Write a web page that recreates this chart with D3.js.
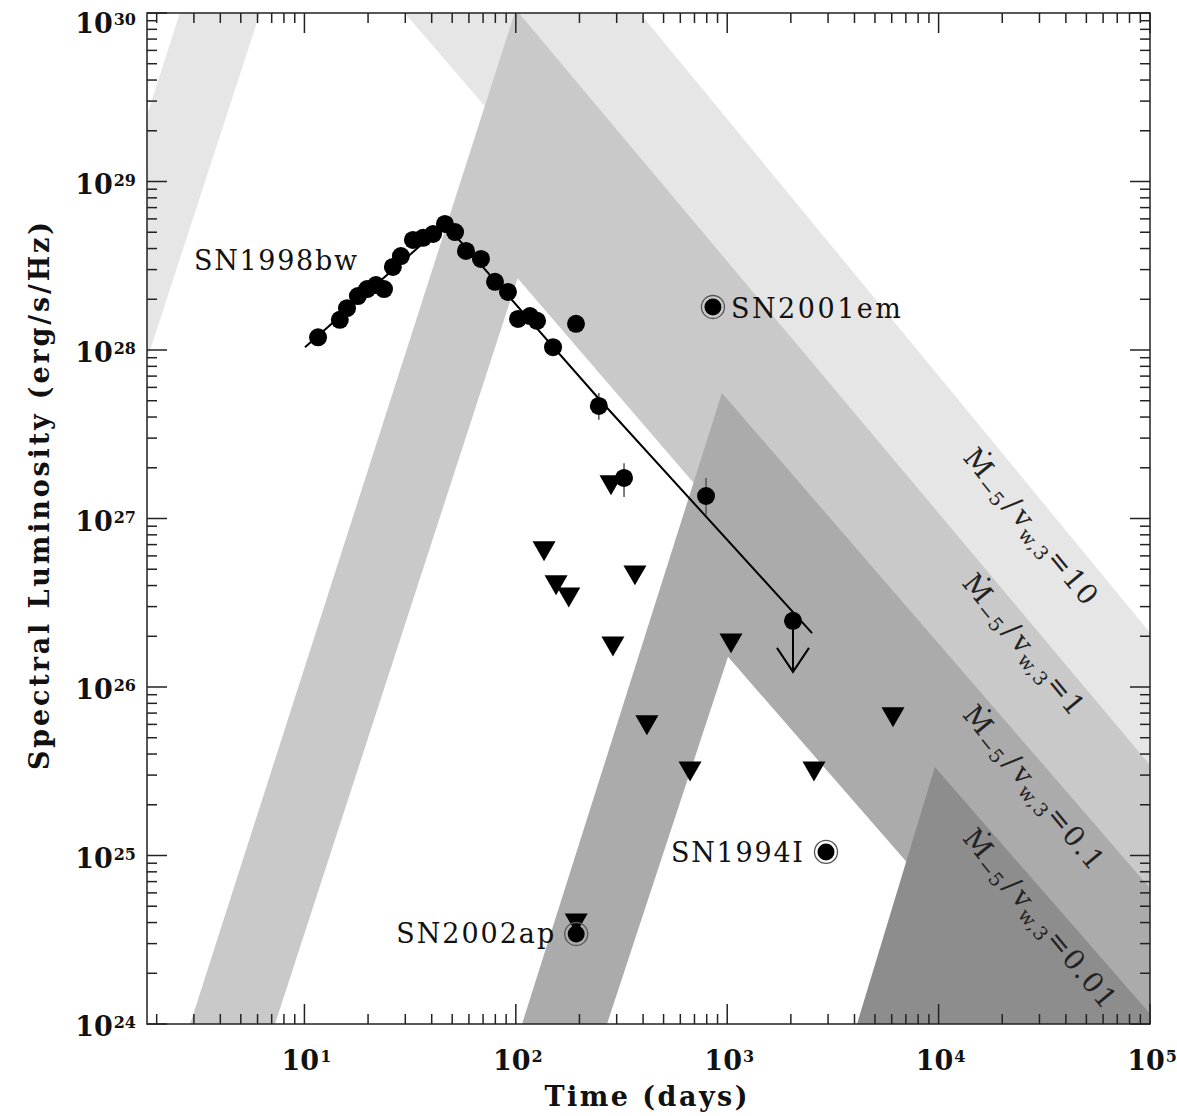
<!DOCTYPE html>
<html>
<head>
<meta charset="utf-8">
<script src="https://cdn.jsdelivr.net/npm/d3@7"></script>
<style>
  body { margin: 0; background: #fff; }
  svg { display: block; }
</style>
</head>
<body>
<svg id="chart" width="1177" height="1116"></svg>
<script>
// ---- Model bands: Λ-shaped regions for each mass-loss parameter ----
const modelMdot  = ["10", "1", "0.1", "0.01"];
const modelShade = ["#e6e6e6", "#c9c9c9", "#ababab", "#8d8d8d"];
// outer edge: rise foot, peak, decline end
const modelOuterDays = [[1, 10.5, 1e5], [2.88, 100, 1e5], [107, 944, 1e5], [4110, 9600, 1e5]];
const modelOuterLum  = [[2.49e28, 2.43e32, 2.1e26], [1e24, 1.05e30, 3.44e25], [1e24, 5.56e27, 6.4e24], [1e24, 3.35e25, 1.15e24]];
// inner edge, walked back: decline end, peak, rise foot
const modelInnerDays = [[1e5, 9.5, 1], [1e5, 102, 7.26], [1e5, 1009, 270], [1e5, 1e4, 3160]];
const modelInnerLum  = [[7.2e24, 5.3e30, 9.1e26], [1.15e24, 2.67e28, 1e24], [2e23, 1.51e26, 1e24], [3e22, 8.5e23, 1e22]];

// ---- SN1998bw radio light curve ----
const sn98Days = [11.6, 14.7, 15.9, 17.9, 19.8, 21.8, 23.8, 26.2, 28.6, 32.6, 36.4, 40.6, 46.2, 51.6, 58.1, 68.4, 79.7, 91.8, 102.4, 116.7, 126, 150, 192.6, 247, 325, 794, 2047];
const sn98Lum  = [1.19e28, 1.51e28, 1.77e28, 2.09e28, 2.30e28, 2.43e28, 2.30e28, 3.11e28, 3.61e28, 4.50e28, 4.63e28, 4.88e28, 5.60e28, 5.01e28, 3.87e28, 3.47e28, 2.54e28, 2.21e28, 1.53e28, 1.59e28, 1.49e28, 1.04e28, 1.43e28, 4.66e27, 1.74e27, 1.36e27, 2.47e26];
// error bars (index into the light curve, low, high)
const sn98ErrIndex = [23, 24, 25];
const sn98ErrLow   = [3.85e27, 1.34e27, 1.05e27];
const sn98ErrHigh  = [5.56e27, 2.13e27, 1.74e27];
// last epoch is also shown as an upper limit
const sn98LimitDay = 2047;
const sn98LimitFrom = 2.47e26;
const sn98LimitTo = 1.23e26;
// broken power-law fit
const fitDays = [10.06, 46.2, 250, 2520];
const fitLum  = [1.04e28, 5.6e28, 5.05e27, 2.09e26];

// ---- upper limits for other type Ib/c supernovae ----
const limitDays = [136, 155, 178, 282, 366, 288, 1042, 417, 667, 2573, 6085, 193];
const limitLum  = [6.68e26, 4.2e26, 3.56e26, 1.65e27, 4.81e26, 1.82e26, 1.90e26, 6.2e25, 3.30e25, 3.30e25, 6.92e25, 4.14e24];

// ---- detected supernovae ----
const snNames = ["SN2001em", "SN1994I", "SN2002ap"];
const snDays  = [856, 2933, 193];
const snLum   = [1.80e28, 1.05e25, 3.42e24];

// ---- axes ----
const xTickExp = [1, 2, 3, 4, 5];
const yTickExp = [24, 25, 26, 27, 28, 29, 30];

const svg = d3.select("#chart");
const L = 147, R = 1150, T = 13, B = 1024;
const x = d3.scaleLog().domain([1.8, 1e5]).range([L, R]);
const y = d3.scaleLog().domain([1e24, 1e30]).range([B, T]);

svg.append("defs").append("clipPath").attr("id", "plotClip")
  .append("rect").attr("x", L).attr("y", T).attr("width", R - L).attr("height", B - T);

const line = d3.line().x(d => x(d[0])).y(d => y(d[1]));

// model bands, lightest first
const bands = svg.append("g").attr("clip-path", "url(#plotClip)");
modelMdot.forEach((m, i) => {
  const pts = [];
  modelOuterDays[i].forEach((t, j) => pts.push([t, modelOuterLum[i][j]]));
  modelInnerDays[i].forEach((t, j) => pts.push([t, modelInnerLum[i][j]]));
  bands.append("path").attr("d", line(pts) + "Z").attr("fill", modelShade[i]);
});

// band labels
const bandLabelPos = [[1030, 528], [1023, 646], [1033, 789], [1039, 920]];
modelMdot.forEach((m, i) => {
  const g = svg.append("g")
    .attr("transform", `translate(${bandLabelPos[i][0]},${bandLabelPos[i][1]}) rotate(50.5)`);
  const t = g.append("text")
    .attr("text-anchor", "middle")
    .attr("dy", 8)
    .attr("font-family", "DejaVu Serif")
    .attr("font-size", 28)
    .attr("letter-spacing", 1.5)
    .attr("fill", "#222");
  t.append("tspan").text("Ṁ");
  t.append("tspan").attr("font-size", 19).attr("dy", 6).text("−5");
  t.append("tspan").attr("dy", -6).attr("dx", 2).text("/");
  t.append("tspan").attr("dx", 3).text("v");
  t.append("tspan").attr("font-size", 19).attr("dy", 6).text("w,3");
  t.append("tspan").attr("dy", -6).text("=" + m);
});

const marks = svg.append("g").attr("clip-path", "url(#plotClip)");

// fit line
marks.append("path")
  .attr("d", line(fitDays.map((t, i) => [t, fitLum[i]])))
  .attr("fill", "none").attr("stroke", "#000").attr("stroke-width", 2);

// error bars
sn98ErrIndex.forEach((k, i) => {
  marks.append("line")
    .attr("x1", x(sn98Days[k])).attr("x2", x(sn98Days[k]))
    .attr("y1", y(sn98ErrLow[i])).attr("y2", y(sn98ErrHigh[i]))
    .attr("stroke", "#555").attr("stroke-width", 1.5);
});

// upper-limit arrow
const ax = x(sn98LimitDay);
marks.append("line")
  .attr("x1", ax).attr("x2", ax)
  .attr("y1", y(sn98LimitFrom)).attr("y2", y(sn98LimitTo))
  .attr("stroke", "#000").attr("stroke-width", 2);
marks.append("path")
  .attr("d", `M${ax - 16},${y(sn98LimitTo) - 24}L${ax},${y(sn98LimitTo)}L${ax + 16},${y(sn98LimitTo) - 24}`)
  .attr("fill", "none").attr("stroke", "#000").attr("stroke-width", 2);

// triangles (upper limits)
const tri = d3.symbol().type(d3.symbolTriangle).size(230);
limitDays.forEach((t, i) => {
  marks.append("path")
    .attr("d", tri())
    .attr("transform", `translate(${x(t)},${y(limitLum[i])}) rotate(180)`)
    .attr("fill", "#000");
});

// SN1998bw points
sn98Days.forEach((t, i) => {
  marks.append("circle")
    .attr("cx", x(t)).attr("cy", y(sn98Lum[i])).attr("r", 9)
    .attr("fill", "#000");
});

// other SNe: ringed points
snDays.forEach((t, i) => {
  marks.append("circle")
    .attr("cx", x(t)).attr("cy", y(snLum[i])).attr("r", 11.5)
    .attr("fill", "none")
    .attr("stroke", "#555").attr("stroke-width", 1.3);
  marks.append("circle")
    .attr("cx", x(t)).attr("cy", y(snLum[i])).attr("r", 8.5)
    .attr("fill", "#000");
});

// SN labels
const labelFont = { "font-family": "DejaVu Serif", "font-size": 27, "fill": "#111" };
function label(txt, px, py, anchor, len) {
  const el = svg.append("text").attr("x", px).attr("y", py)
    .attr("text-anchor", anchor).text(txt)
    .attr("textLength", len).attr("lengthAdjust", "spacing");
  Object.entries(labelFont).forEach(([k, v]) => el.attr(k, v));
}
label("SN1998bw", 194, 270, "start", 163);
label(snNames[0], x(snDays[0]) + 18, y(snLum[0]) + 11, "start", 170);
label(snNames[1], x(snDays[1]) - 23, y(snLum[1]) + 10, "end", 132);
label(snNames[2], x(snDays[2]) - 22, y(snLum[2]) + 9, "end", 158);

// frame and ticks
const axes = svg.append("g").attr("stroke", "#222").attr("stroke-width", 1.5);
axes.append("rect").attr("x", L).attr("y", T).attr("width", R - L).attr("height", B - T)
  .attr("fill", "none");

const xMinor = [];
for (let k = 0; k <= 4; k++) for (let m = 2; m <= 9; m++) {
  const v = m * Math.pow(10, k);
  if (v >= 1.8 && v <= 1e5) xMinor.push(v);
}
const yMinor = [];
for (let k = 24; k <= 29; k++) for (let m = 2; m <= 9; m++) yMinor.push(m * Math.pow(10, k));

xMinor.forEach(v => {
  axes.append("line").attr("x1", x(v)).attr("x2", x(v)).attr("y1", B).attr("y2", B - 10);
  axes.append("line").attr("x1", x(v)).attr("x2", x(v)).attr("y1", T).attr("y2", T + 10);
});
xTickExp.forEach(e => {
  const v = Math.pow(10, e);
  axes.append("line").attr("x1", x(v)).attr("x2", x(v)).attr("y1", B).attr("y2", B - 20);
  axes.append("line").attr("x1", x(v)).attr("x2", x(v)).attr("y1", T).attr("y2", T + 20);
});
yMinor.forEach(v => {
  axes.append("line").attr("x1", L).attr("x2", L + 10).attr("y1", y(v)).attr("y2", y(v));
  axes.append("line").attr("x1", R).attr("x2", R - 10).attr("y1", y(v)).attr("y2", y(v));
});
yTickExp.forEach(e => {
  const v = Math.pow(10, e);
  axes.append("line").attr("x1", L).attr("x2", L + 20).attr("y1", y(v)).attr("y2", y(v));
  axes.append("line").attr("x1", R).attr("x2", R - 20).attr("y1", y(v)).attr("y2", y(v));
});

// tick labels: "10" with a raised exponent
const tickFont = "DejaVu Serif";
function powerLabel(px, py, anchor, e) {
  const t = svg.append("text")
    .attr("x", px).attr("y", py)
    .attr("text-anchor", anchor)
    .attr("font-family", tickFont).attr("font-weight", "bold")
    .attr("font-size", 27).attr("fill", "#111");
  t.append("tspan").text("10");
  t.append("tspan").attr("font-size", 16).attr("dy", -8).attr("dx", 1).text(e);
}
xTickExp.forEach(e => powerLabel(x(Math.pow(10, e)) + 2, 1070, "middle", e));
yTickExp.forEach(e => {
  const ty = y(Math.pow(10, e));
  powerLabel(136, Math.max(ty + 12, 33), "end", e);
});

// axis titles
svg.append("text")
  .attr("x", 646).attr("y", 1106).attr("text-anchor", "middle")
  .attr("font-family", "DejaVu Serif").attr("font-weight", "bold")
  .attr("font-size", 27).attr("fill", "#111")
  .attr("textLength", 203).attr("lengthAdjust", "spacing")
  .text("Time (days)");
svg.append("text")
  .attr("transform", "translate(49,496) rotate(-90)")
  .attr("text-anchor", "middle")
  .attr("font-family", "DejaVu Serif").attr("font-weight", "bold")
  .attr("font-size", 27).attr("fill", "#111")
  .attr("textLength", 548).attr("lengthAdjust", "spacing")
  .text("Spectral Luminosity (erg/s/Hz)");
</script>
</body>
</html>
